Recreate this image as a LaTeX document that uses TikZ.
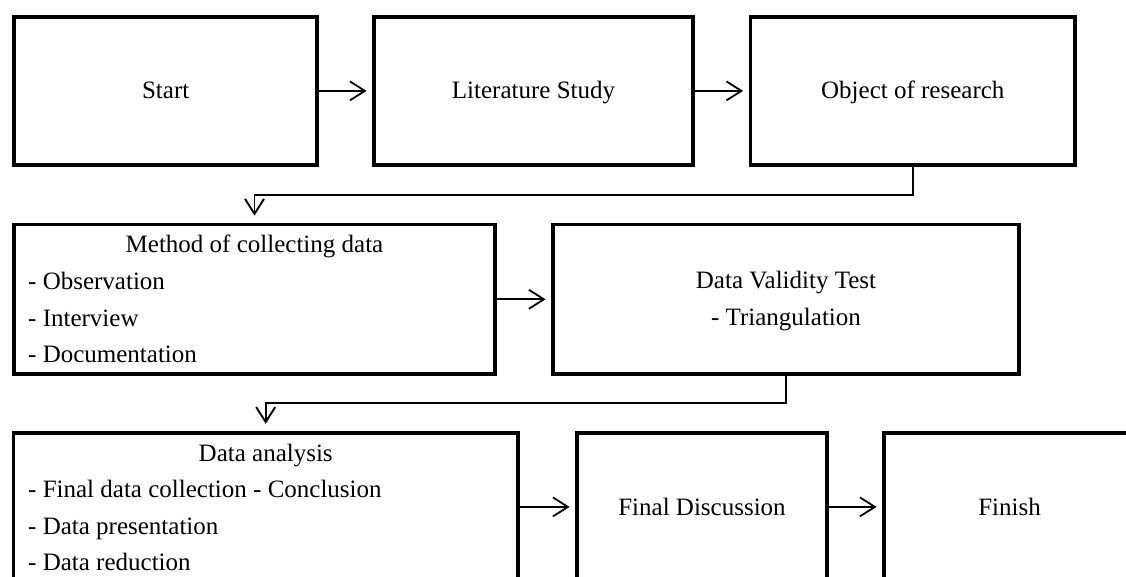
\documentclass[tikz,border=0pt]{standalone}
\usepackage{fontspec}
\setmainfont{Liberation Serif}
\usetikzlibrary{arrows.meta}
\begin{document}
\begin{tikzpicture}[x=1pt,y=-1pt,
  box/.style={draw=black, line width=3.8pt, rectangle, inner sep=0pt, fill=white},
  txt/.style={inner sep=0pt, font=\fontsize{25pt}{30pt}\selectfont},
  flow/.style={draw=black, line width=1.8pt, -{Straight Barb[length=15pt,width=19pt]}, shorten >=5.5pt},
  elbow/.style={draw=black, line width=1.6pt, -{Straight Barb[length=15pt,width=19pt,line width=1.9pt]}, shorten >=7pt}]
\useasboundingbox (0,0) rectangle (1126,577);
\fill[white] (0,0) rectangle (1126,577);
\clip (0,0) rectangle (1126,577);
% row 1
\node[box, minimum width=302.7pt, minimum height=148.3pt] (start) at (165.7,90.9) {};
\node[box, minimum width=319pt, minimum height=148.3pt] (lit) at (533.5,90.9) {};
\node[box, minimum width=324.5pt, minimum height=148.3pt] (obj) at (912.8,90.9) {};
\node[txt, anchor=base] (tstart) at (165.7,99) {Start};
\node[txt, anchor=base] (tlit) at (533.5,99) {Literature Study};
\node[txt, anchor=base] (tobj) at (912.8,99) {Object of research};
% row 2
\node[box, minimum width=480.3pt, minimum height=149.5pt] (meth) at (254.5,299.3) {};
\node[box, minimum width=466pt, minimum height=149.5pt] (val) at (786,299.3) {};
\node[txt, anchor=base] (tmeth) at (254.5,252.7) {Method of collecting data};
\node[txt, anchor=base west] (m1) at (28,289) {- Observation};
\node[txt, anchor=base west] (m2) at (28,326) {- Interview};
\node[txt, anchor=base west] (m3) at (28,362.7) {- Documentation};
\node[txt, anchor=base] (tval) at (786,288.3) {Data Validity Test};
\node[txt, anchor=base] (tval2) at (786,325) {- Triangulation};
% row 3
\node[box, minimum width=504.6pt, minimum height=148.3pt] (ana) at (265.7,506.9) {};
\node[box, minimum width=250pt, minimum height=148.3pt] (fd) at (702,506.9) {};
\node[box, minimum width=251pt, minimum height=148.3pt] (fin) at (1009.5,506.9) {};
\node[txt, anchor=base] (tana) at (265.7,461.7) {Data analysis};
\node[txt, anchor=base west] (a1) at (28,497.7) {- Final data collection - Conclusion};
\node[txt, anchor=base west] (a2) at (28,534.3) {- Data presentation};
\node[txt, anchor=base west] (a3) at (28,570.7) {- Data reduction};
\node[txt, anchor=base] (tfd) at (702,515) {Final Discussion};
\node[txt, anchor=base] (tfin) at (1009.5,515) {Finish};
% connectors
\draw[flow] (start) -- (lit);
\draw[flow] (lit) -- (obj);
\draw[flow] (meth) -- (val);
\draw[flow] (ana) -- (fd);
\draw[flow] (fd) -- (fin);
\draw[elbow] (obj.south) -- ++(0,28) -| (meth.north);
\draw[elbow] (val.south) -- ++(0,27) -| (ana.north);
\end{tikzpicture}
\end{document}
